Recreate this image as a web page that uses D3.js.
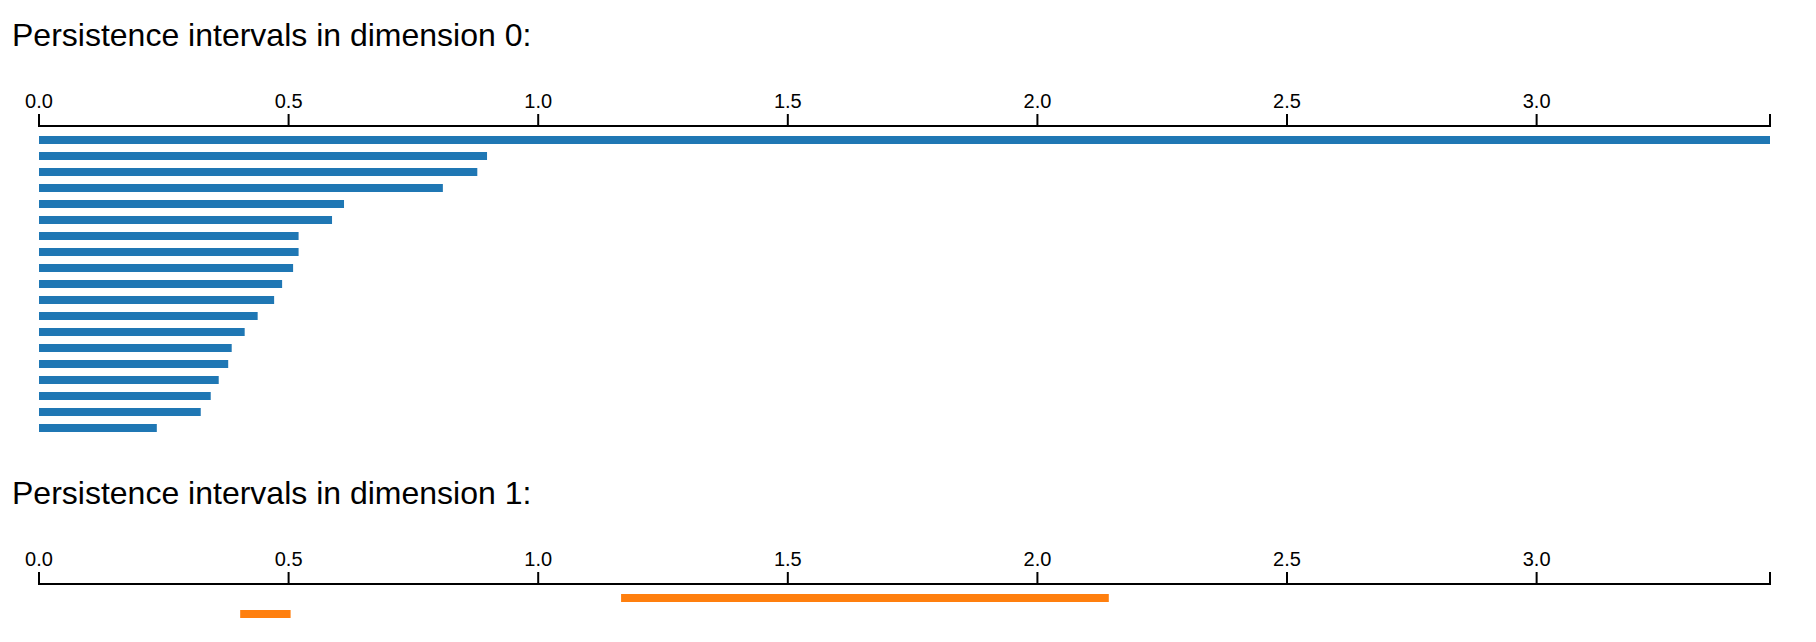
<!DOCTYPE html>
<meta charset="utf-8" />
<style>
  body {
    margin: 0;
    background: #fff;
  }

  .title {
    font-family: Helvetica, Arial, "Liberation Sans", sans-serif;
    font-size: 32px;
    fill: #000;
  }

  .axis text {
    font-family: Helvetica, Arial, "Liberation Sans", sans-serif;
    font-size: 20px;
  }

  .axis path,
  .axis line {
    stroke: #000;
    stroke-width: 2px;
  }
</style>
<svg width="1816" height="642"></svg>

<script src="https://d3js.org/d3.v7.js"></script>
<script>
  /* global d3 */

  // dimension 0: every interval is born at 0
  var dim0Births = [0, 0, 0, 0, 0, 0, 0, 0, 0, 0, 0, 0, 0, 0, 0, 0, 0, 0, 0];
  var dim0Deaths = [
    3.4675, 0.8975, 0.878, 0.809, 0.611, 0.587, 0.52, 0.52, 0.509, 0.487,
    0.471, 0.438, 0.412, 0.386, 0.379, 0.36, 0.344, 0.324, 0.236
  ];

  // dimension 1
  var dim1Births = [1.166, 0.403];
  var dim1Deaths = [2.143, 0.504];

  var titles = [
    "Persistence intervals in dimension 0:",
    "Persistence intervals in dimension 1:"
  ];

  var svg = d3.select("svg");

  var color = d3.scaleOrdinal(d3.schemeCategory10);

  var maxDeath = d3.max(dim0Deaths.concat(dim1Deaths));

  var x = d3.scaleLinear().domain([0, maxDeath]).range([39, 1770]);

  var dims = [
    { births: dim0Births, deaths: dim0Deaths },
    { births: dim1Births, deaths: dim1Deaths }
  ];

  var titleBase = 46,
    axisOffset = 126,
    step = 16,
    sectionY = 0;

  dims.forEach(function (dim, k) {
    var g = svg.append("g").attr("transform", "translate(0," + sectionY + ")");

    g.append("text")
      .attr("class", "title")
      .attr("x", 12)
      .attr("y", titleBase)
      .text(titles[k]);

    g.append("g")
      .attr("class", "axis")
      .attr("transform", "translate(0," + axisOffset + ")")
      .call(d3.axisTop(x).tickSize(12).tickPadding(6).offset(0));

    var n = dim.deaths.length;
    var y = d3
      .scaleBand()
      .domain(d3.range(n))
      .range([axisOffset + 6, axisOffset + 6 + n * step])
      .paddingInner(0.5)
      .paddingOuter(0.25);

    g.append("g")
      .selectAll("rect")
      .data(d3.range(n))
      .enter()
      .append("rect")
      .attr("x", function (i) {
        return x(dim.births[i]);
      })
      .attr("y", function (i) {
        return y(i);
      })
      .attr("width", function (i) {
        return x(dim.deaths[i]) - x(dim.births[i]);
      })
      .attr("height", y.bandwidth())
      .attr("fill", color(k));

    sectionY += axisOffset + 6 + n * step + 22;
  });
</script>
